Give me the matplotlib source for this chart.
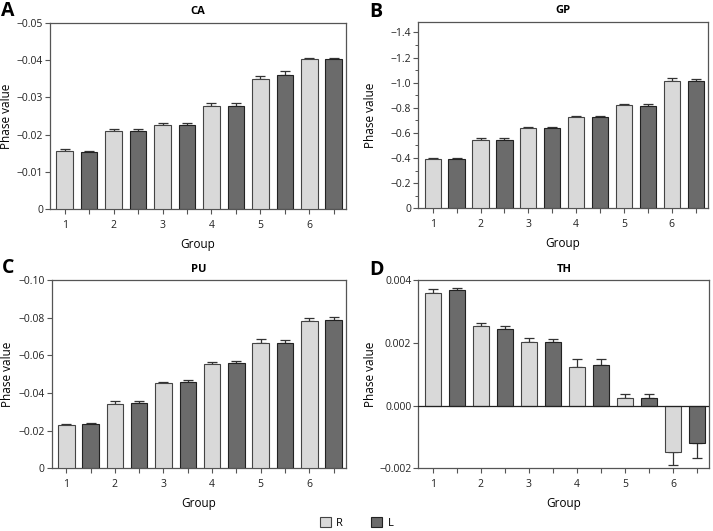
import matplotlib
matplotlib.use("Agg")
import matplotlib.pyplot as plt
import numpy as np
from matplotlib.patches import Patch
from matplotlib.ticker import MultipleLocator

plt.rcParams['font.family'] = ['Open Sans', 'DejaVu Sans']

groups = ["1", "2", "3", "4", "5", "6"]
sides = ["R", "L"]

ca_r = [-0.0157, -0.0209, -0.0225, -0.0277, -0.0348, -0.0402]
ca_l = [-0.0153, -0.0209, -0.0225, -0.0276, -0.0359, -0.0402]
ca_r_err = [0.0005, 0.0005, 0.0007, 0.0009, 0.0010, 0.0004]
ca_l_err = [0.0004, 0.0006, 0.0005, 0.0008, 0.0011, 0.0004]

gp_r = [-0.389, -0.540, -0.638, -0.723, -0.819, -1.017]
gp_l = [-0.389, -0.540, -0.638, -0.723, -0.813, -1.015]
gp_r_err = [0.010, 0.018, 0.008, 0.008, 0.013, 0.021]
gp_l_err = [0.008, 0.018, 0.008, 0.008, 0.016, 0.015]

pu_r = [-0.0228, -0.0340, -0.0451, -0.0556, -0.0667, -0.0784]
pu_l = [-0.0235, -0.0345, -0.0457, -0.0558, -0.0665, -0.0786]
pu_r_err = [0.0009, 0.0016, 0.0009, 0.0010, 0.0020, 0.0012]
pu_l_err = [0.0007, 0.0011, 0.0010, 0.0010, 0.0015, 0.0019]

th_r = [0.00359, 0.00252, 0.00202, 0.00122, 0.00024, -0.00149]
th_l = [0.00367, 0.00243, 0.00202, 0.00128, 0.00024, -0.00120]
th_r_err = [0.00013, 0.00012, 0.00013, 0.00027, 0.00013, 0.00042]
th_l_err = [0.00007, 0.00010, 0.00010, 0.00021, 0.00013, 0.00047]

panels = [
    dict(letter="A", title="CA", r=ca_r, l=ca_l, re=ca_r_err, le=ca_l_err,
         ylim=(0, -0.05), ticks=[0, -0.01, -0.02, -0.03, -0.04, -0.05],
         labels=["0", "\u22120.01", "\u22120.02", "\u22120.03", "\u22120.04", "\u22120.05"], minor=None,
         pos=[0.0701, 0.6058, 0.4152, 0.3515], ylab_x=-0.124, letter_xy=(1, 1)),
    dict(letter="B", title="GP", r=gp_r, l=gp_l, re=gp_r_err, le=gp_l_err,
         ylim=(0, -1.485), ticks=[0, -0.2, -0.4, -0.6, -0.8, -1.0, -1.2, -1.4],
         labels=["0", "\u22120.2", "\u22120.4", "\u22120.6", "\u22120.8", "\u22121.0", "\u22121.2", "\u22121.4"], minor=0.1,
         pos=[0.5867, 0.6077, 0.4059, 0.3514], ylab_x=-0.143, letter_xy=(369, 2)),
    dict(letter="C", title="PU", r=pu_r, l=pu_l, re=pu_r_err, le=pu_l_err,
         ylim=(0, -0.10), ticks=[0, -0.02, -0.04, -0.06, -0.08, -0.10],
         labels=["0", "\u22120.02", "\u22120.04", "\u22120.06", "\u22120.08", "\u22120.10"], minor=None,
         pos=[0.0725, 0.1181, 0.4124, 0.3546], ylab_x=-0.128, letter_xy=(2, 258)),
    dict(letter="D", title="TH", r=th_r, l=th_l, re=th_r_err, le=th_l_err,
         ylim=(-0.002, 0.004), ticks=[-0.002, 0.0, 0.002, 0.004],
         labels=["\u22120.002", "0.000", "0.002", "0.004"], minor=None,
         pos=[0.5867, 0.1181, 0.4080, 0.3546], ylab_x=-0.142, letter_xy=(369, 260)),
]

light = "#d9d9d9"
dark = "#6b6b6b"
spine_c = "#555555"

W, H = 713, 531
fig = plt.figure(figsize=(W / 100, H / 100), dpi=100)

for p in panels:
    ax = fig.add_axes(p["pos"])
    n = len(groups)
    xr = np.arange(n) * 2
    xl = xr + 1
    vals_r = np.array(p["r"]); vals_l = np.array(p["l"])
    er = np.array(p["re"]); el = np.array(p["le"])
    for x, v, e, col, ec in [(xr, vals_r, er, light, "#444444"), (xl, vals_l, el, dark, "#222222")]:
        lo = np.where(v < 0, e, 0)
        hi = np.where(v >= 0, e, 0)
        ax.errorbar(x, v, yerr=[lo, hi], fmt="none", ecolor="#333333",
                    elinewidth=0.9, capsize=3.5, capthick=0.9, zorder=2)
        ax.bar(x, v, width=0.68, color=col, edgecolor=ec, linewidth=0.8, zorder=3)
    if p["ylim"][0] < 0 < p["ylim"][1]:
        ax.axhline(0, color="#222222", linewidth=0.9, zorder=4)
    ax.set_xlim(-0.6, 11.5)
    ax.set_ylim(*p["ylim"])
    ax.set_xticks(np.arange(2 * n))
    ax.set_xticklabels([groups[i // 2] if i % 2 == 0 else "" for i in range(2 * n)])
    ax.set_yticks(p["ticks"])
    ax.set_yticklabels(p["labels"])
    if p["minor"]:
        ax.yaxis.set_minor_locator(MultipleLocator(p["minor"]))
    ax.tick_params(axis="both", direction="out", labelsize=7.5, color=spine_c,
                   length=3.5, width=0.8, labelcolor="#222222", pad=1.5)
    ax.tick_params(axis="x", pad=4.5)
    ax.tick_params(axis="y", which="minor", direction="out", length=2, width=0.7, color=spine_c)
    for s in ax.spines.values():
        s.set_color(spine_c)
        s.set_linewidth(0.9)
    ax.set_xlabel("Group", fontsize=8.5, labelpad=4.5)
    ax.set_ylabel("Phase value", fontsize=8.5)
    ax.yaxis.set_label_coords(p["ylab_x"], 0.5)
    ax.set_title(p["title"], fontsize=8, fontweight="bold", pad=6)
    lx, ly = p["letter_xy"]
    fig.text(lx / W, 1 - ly / H, p["letter"], fontsize=14, fontweight="bold",
             va="top", ha="left")

handles = [Patch(facecolor=light, edgecolor="#444444", linewidth=0.8, label="R"),
           Patch(facecolor=dark, edgecolor="#222222", linewidth=0.8, label="L")]
fig.legend(handles=handles, loc="lower center", bbox_to_anchor=(0.5, -0.015), ncol=2,
           frameon=False, fontsize=8, handlelength=1.0, handleheight=1.0,
           columnspacing=2.5, handletextpad=0.5)

fig.savefig("out.png", dpi=100)
